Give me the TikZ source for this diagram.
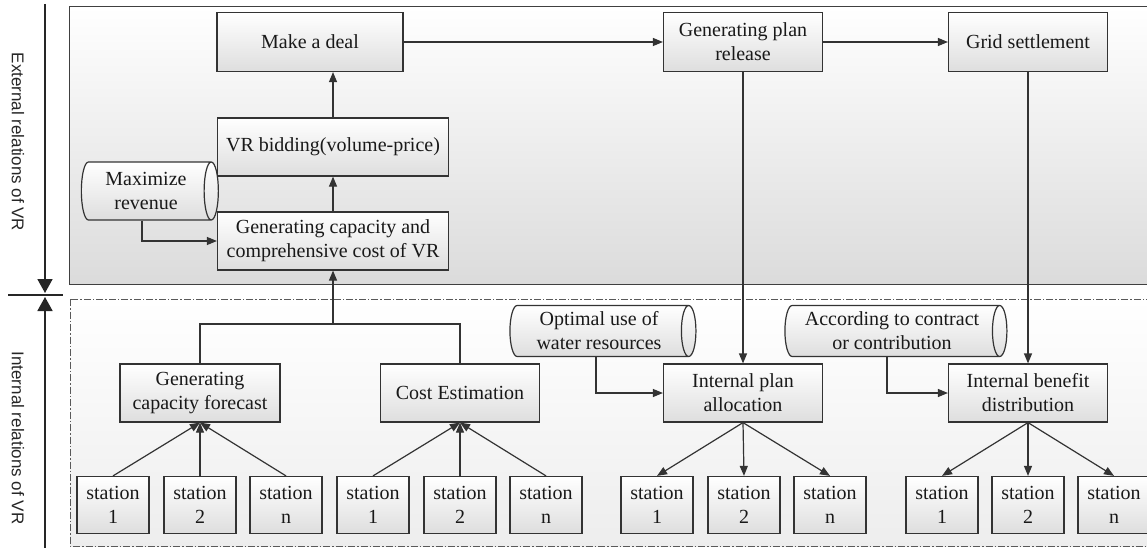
\documentclass[tikz,border=0pt]{standalone}
\usepackage{fontspec}
\setmainfont{Liberation Serif}
\newfontfamily\sidefont{Liberation Sans}
\usetikzlibrary{shapes.geometric,arrows.meta}

\begin{document}
\begin{tikzpicture}[x=1pt,y=-1pt]
    \tikzstyle{every node}=[font=\fontsize{20}{24}\selectfont, align=center, inner sep=1pt, text=black!90]
    \tikzstyle{box}=[rectangle, draw=black!80, line width=1.2pt, top color=white, bottom color=black!13]
    \tikzstyle{station}=[box, minimum width=72pt, minimum height=57pt]
    \tikzstyle{can}=[cylinder, shape aspect=0.38, draw=black!80, line width=1.2pt, top color=white, bottom color=black!13, inner sep=0pt]
    \tikzstyle{arr}=[-{Triangle[length=10pt,width=8pt]}, line width=1.2pt, draw=black!80]
    \tikzstyle{line}=[line width=1.2pt, draw=black!80]
    \tikzstyle{axis}=[line width=1.7pt, draw=black!85]
    \tikzstyle{side}=[font=\sidefont\fontsize{17}{20}\selectfont, rotate=-90, text=black!85]

    \useasboundingbox (0,0) rectangle (1147,548);

    % panels
    \draw[black!75, line width=1pt, top color=white, bottom color=black!14] (69,7) rectangle (1152,284);
    \draw[black!65, line width=0.9pt, dash pattern=on 7pt off 2pt on 1.5pt off 2pt,
          top color=white, bottom color=black!7] (70,299) rectangle (1152,546);

    % left axis
    \coordinate (axtop) at (45,4);
    \coordinate (axdn) at (45,293);
    \coordinate (axup) at (45,297);
    \coordinate (axbot) at (45,550);
    \coordinate (sepl) at (8,295);
    \coordinate (sepr) at (63,295);
    \draw[axis, -{Triangle[length=14pt,width=15pt]}] (axtop) -- (axdn);
    \draw[axis, -{Triangle[length=14pt,width=15pt]}] (axbot) -- (axup);
    \draw[axis] (sepl) -- (sepr);
    \node[side] (ext) at (18,142) {External relations of VR};
    \node[side] (int) at (18,438) {Internal relations of VR};

    % external part
    \node[box, minimum width=186pt, minimum height=59pt] (mad) at (310,42) {Make a deal};
    \node[box, minimum width=231pt, minimum height=58pt] (vrb) at (333,147) {VR bidding(volume-price)};
    \node[box, minimum width=231pt, minimum height=58pt] (gcc) at (333,241) {Generating capacity and\\comprehensive cost of VR};
    \node[can, minimum height=137pt, minimum width=58pt] (maxr) at (146,191) {Maximize\\revenue};
    \node[box, minimum width=159pt, minimum height=59pt] (gpr) at (743,42) {Generating plan\\release};
    \node[box, minimum width=159pt, minimum height=59pt] (grid) at (1028,42) {Grid settlement};

    % internal part
    \node[box, minimum width=160pt, minimum height=58pt] (gcf) at (200,393) {Generating\\capacity forecast};
    \node[box, minimum width=159pt, minimum height=58pt] (ce) at (460,393) {Cost Estimation};
    \node[box, minimum width=159pt, minimum height=58pt] (ipa) at (743,393) {Internal plan\\allocation};
    \node[box, minimum width=159pt, minimum height=58pt] (ibd) at (1028,393) {Internal benefit\\distribution};
    \node[can, minimum height=186pt, minimum width=51pt] (owr) at (599,331) {Optimal use of\\water resources};
    \node[can, minimum height=222pt, minimum width=51pt] (acc) at (892,331) {According to contract\\or contribution};
    \coordinate (join) at (333,324);

    \node[station] (a1) at (113,505) {station\\1};
    \node[station] (a2) at (200,505) {station\\2};
    \node[station] (an) at (286,505) {station\\n};
    \node[station] (b1) at (373,505) {station\\1};
    \node[station] (b2) at (460,505) {station\\2};
    \node[station] (bn) at (546,505) {station\\n};
    \node[station] (c1) at (657,505) {station\\1};
    \node[station] (c2) at (744,505) {station\\2};
    \node[station] (cn) at (830,505) {station\\n};
    \node[station] (d1) at (942,505) {station\\1};
    \node[station] (d2) at (1028,505) {station\\2};
    \node[station] (dn) at (1114,505) {station\\n};

    % connectors
    \draw[arr] (mad) -- (gpr);
    \draw[arr] (gpr) -- (grid);
    \draw[arr] (vrb.north) -- (vrb.north |- mad.south);
    \draw[arr] (gcc) -- (vrb);
    \draw[arr] ([xshift=-4pt]maxr.south) |- (gcc.west);
    \draw[line] (gcf.north) |- (join) -| (ce.north);
    \draw[arr] (join) -- (gcc.south);
    \draw[arr] (gpr) -- (ipa);
    \draw[arr] (grid) -- (ibd);
    \draw[arr] ([xshift=-3pt]owr.south) |- (ipa.west);
    \draw[arr] ([xshift=-5pt]acc.south) |- (ibd.west);

    \draw[arr] (a1.north) -- (gcf.south);
    \draw[arr] (a2.north) -- (gcf.south);
    \draw[arr] (an.north) -- (gcf.south);
    \draw[arr] (b1.north) -- (ce.south);
    \draw[arr] (b2.north) -- (ce.south);
    \draw[arr] (bn.north) -- (ce.south);
    \draw[arr] (ipa.south) -- (c1.north);
    \draw[arr] (ipa.south) -- (c2.north);
    \draw[arr] (ipa.south) -- (cn.north);
    \draw[arr] (ibd.south) -- (d1.north);
    \draw[arr] (ibd.south) -- (d2.north);
    \draw[arr] (ibd.south) -- (dn.north);
\end{tikzpicture}
\end{document}
